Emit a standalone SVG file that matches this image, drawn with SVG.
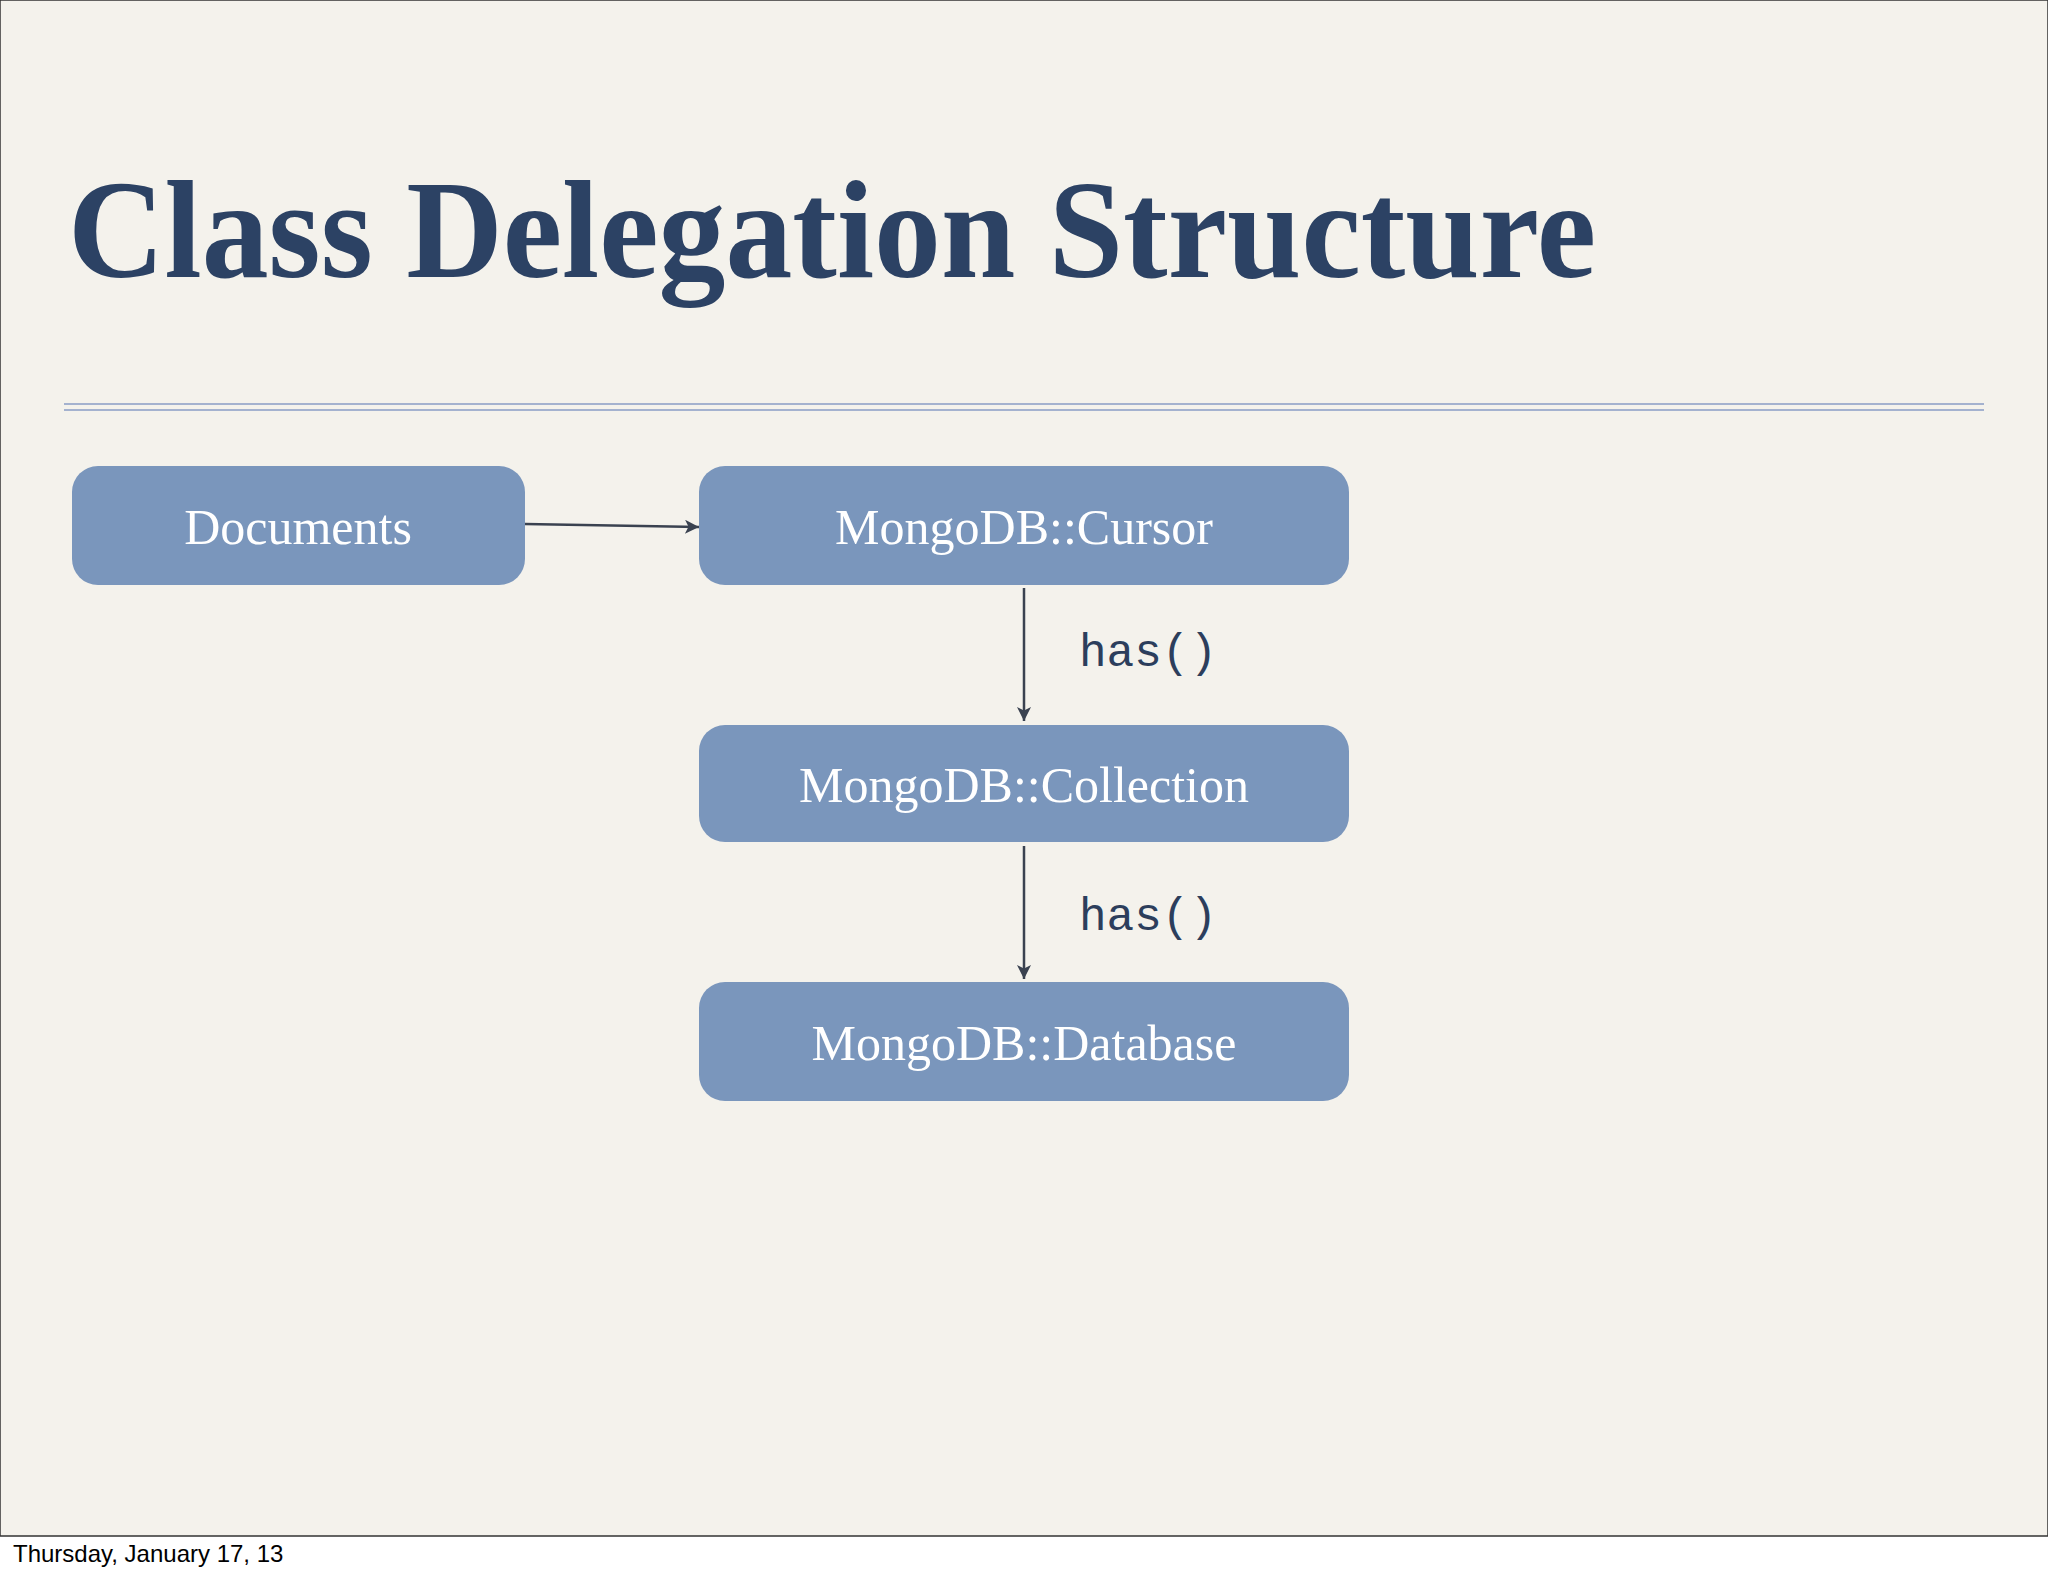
<svg xmlns="http://www.w3.org/2000/svg" width="2048" height="1576" viewBox="0 0 2048 1576">
<style>
.box{fill:#7a96bc}
.lbl{font-family:"Liberation Serif",serif;font-size:50px;fill:#ffffff;text-anchor:middle}
.code{font-family:"Liberation Mono",monospace;font-size:46px;fill:#2c3e5c}
.conn{stroke:#3a4250;stroke-width:2.5;fill:none;marker-end:url(#ah)}
</style>
<defs>
<marker id="ah" viewBox="0 0 10 10" refX="10" refY="5" markerWidth="15" markerHeight="14" orient="auto" markerUnits="userSpaceOnUse"><path d="M0,0 L10,5 L0,10 L2.5,5 z" fill="#3a4250"/></marker>
</defs>
<rect width="2048" height="1576" fill="#ffffff"/>
<rect x="0" y="0" width="2048" height="1536" fill="#f4f2ec" stroke="#333" stroke-width="1.5"/>
<text x="68" y="277" font-family="Liberation Serif,serif" font-weight="bold" font-size="140" fill="#2c4264" textLength="1528" lengthAdjust="spacingAndGlyphs">Class Delegation Structure</text>
<line x1="64" y1="404" x2="1984" y2="404" stroke="#8a9cc6" stroke-width="1.5"/>
<line x1="64" y1="410" x2="1984" y2="410" stroke="#8a9cc6" stroke-width="1.5"/>
<g id="documents"><rect class="box" x="72" y="466" width="453" height="119" rx="26"/><text class="lbl" x="298" y="544">Documents</text></g>
<g id="cursor"><rect class="box" x="699" y="466" width="650" height="119" rx="26"/><text class="lbl" x="1024" y="544">MongoDB::Cursor</text></g>
<g id="collection"><rect class="box" x="699" y="725" width="650" height="117" rx="26"/><text class="lbl" x="1024" y="802">MongoDB::Collection</text></g>
<g id="database"><rect class="box" x="699" y="982" width="650" height="119" rx="26"/><text class="lbl" x="1024" y="1060">MongoDB::Database</text></g>
<g id="connectors">
<line class="conn" x1="525" y1="524" x2="699" y2="527"/>
<line class="conn" x1="1024" y1="588" x2="1024" y2="721"/>
<line class="conn" x1="1024" y1="846" x2="1024" y2="979"/>
<text class="code" x="1079" y="666">has()</text>
<text class="code" x="1079" y="930">has()</text>
</g>
<text x="13" y="1562" font-family="Liberation Sans,sans-serif" font-size="24" fill="#000">Thursday, January 17, 13</text>
</svg>
